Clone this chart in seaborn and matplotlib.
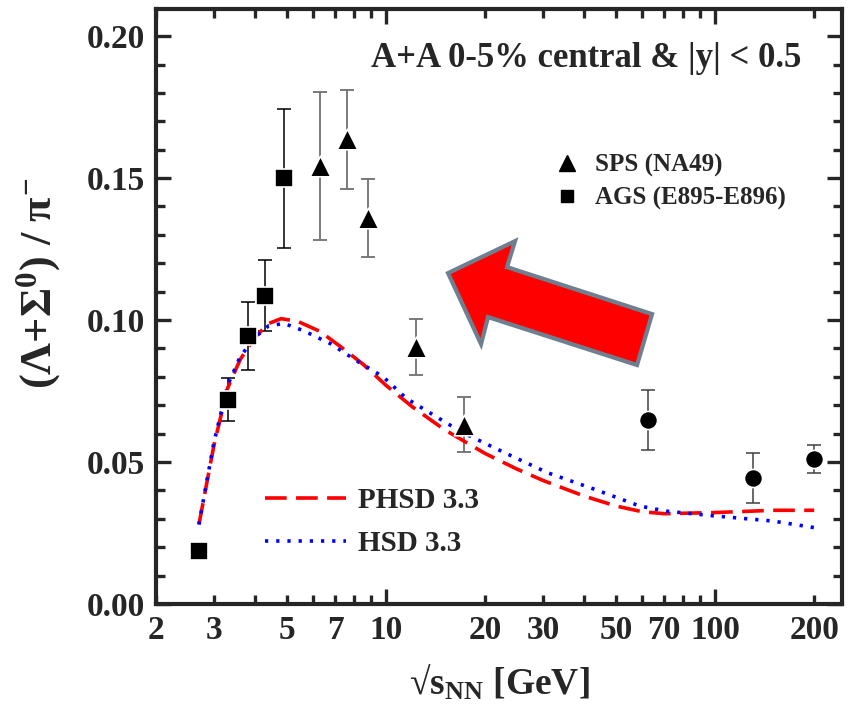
import numpy as np
import pandas as pd
import matplotlib
matplotlib.use("Agg")
import matplotlib.pyplot as plt
from matplotlib.lines import Line2D
from matplotlib.patches import Polygon
from matplotlib.ticker import FixedLocator, LogLocator, NullFormatter, MultipleLocator
import seaborn as sns

# --- data ---
# AGS (E895-E896), squares
ags_x = [2.7, 3.3, 3.8, 4.3, 4.9]
ags_y = [0.0185, 0.0720, 0.0945, 0.1085, 0.1500]
ags_err = [0.0, 0.0075, 0.0120, 0.0125, 0.0245]

# SPS (NA49), triangles
sps_x = [6.3, 7.6, 8.8, 12.3, 17.3]
sps_y = [0.1543, 0.1637, 0.1359, 0.0904, 0.0632]
sps_err = [0.0260, 0.0175, 0.0137, 0.0098, 0.0097]

# RHIC points, circles (no legend entry)
rhic_x = [62.4, 130.0, 200.0]
rhic_y = [0.0647, 0.0445, 0.0510]
rhic_err = [0.0106, 0.0088, 0.0050]

# PHSD 3.3
phsd_x = [2.7, 3.0, 3.3, 3.6, 4.0, 4.4, 4.8, 5.4, 6.3, 7.3, 8.5, 10, 12, 15,
          20, 25, 30, 40, 50, 60, 70, 100, 150, 200]
phsd_y = [0.028, 0.056, 0.076, 0.086, 0.094, 0.0988, 0.1005, 0.0995, 0.096,
          0.0905, 0.0845, 0.077, 0.0695, 0.0615, 0.053, 0.0475, 0.0435, 0.038,
          0.0345, 0.0325, 0.0318, 0.0322, 0.0330, 0.0330]

# HSD 3.3
hsd_x = [2.7, 3.0, 3.3, 3.6, 4.0, 4.4, 4.9, 5.6, 6.8, 8.1, 9.8, 11.5, 14, 17,
         23, 31, 43, 59, 71, 100, 150, 200]
hsd_y = [0.028, 0.057, 0.077, 0.087, 0.094, 0.098, 0.0988, 0.0963, 0.0916,
         0.0858, 0.080, 0.0725, 0.0664, 0.0605, 0.0532, 0.0462, 0.0404, 0.0345,
         0.0327, 0.0310, 0.0292, 0.0269]

x_ticks = [2, 3, 5, 7, 10, 20, 30, 50, 70, 100, 200]
x_ticklabels = ["2", "3", "5", "7", "10", "20", "30", "50", "70", "100", "200"]
y_ticks = [0.00, 0.05, 0.10, 0.15, 0.20]
y_ticklabels = ["0.00", "0.05", "0.10", "0.15", "0.20"]

sns.set_style("ticks")
plt.rcParams["font.family"] = ["Liberation Serif", "DejaVu Serif"]
plt.rcParams["font.weight"] = "bold"
plt.rcParams["axes.labelweight"] = "bold"
plt.rcParams["mathtext.fontset"] = "custom"
plt.rcParams["mathtext.rm"] = "Liberation Serif:bold"
plt.rcParams["mathtext.bf"] = "Liberation Serif:bold"
plt.rcParams["mathtext.it"] = "Liberation Serif:bold"

fig = plt.figure(figsize=(8.48, 7.06), dpi=100)
ax = fig.add_axes([0.184, 0.1445, 0.809, 0.8425])

# model curves
models = pd.concat([
    pd.DataFrame({"x": phsd_x, "y": phsd_y, "model": "PHSD 3.3"}),
    pd.DataFrame({"x": hsd_x, "y": hsd_y, "model": "HSD 3.3"}),
])
dash_red = (0, (6, 2.6))
dot_blue = (0, (0.9, 2.2))
sns.lineplot(data=models[models.model == "PHSD 3.3"], x="x", y="y", ax=ax,
             color="#ff0000", lw=2.6, legend=False, zorder=3, linestyle=dash_red)
sns.lineplot(data=models[models.model == "HSD 3.3"], x="x", y="y", ax=ax,
             color="#0000ff", lw=2.6, legend=False, zorder=4, linestyle=dot_blue)

# error bars
ax.errorbar(ags_x, ags_y, yerr=ags_err, fmt="none", ecolor="black",
            elinewidth=1.1, capsize=5, capthick=1.1, zorder=2)
ax.errorbar(sps_x, sps_y, yerr=sps_err, fmt="none", ecolor="#707070",
            elinewidth=1.3, capsize=5, capthick=1.3, zorder=2)
ax.errorbar(rhic_x, rhic_y, yerr=rhic_err, fmt="none", ecolor="#404040",
            elinewidth=1.1, capsize=5, capthick=1.1, zorder=2)

# markers
sns.scatterplot(x=ags_x, y=ags_y, marker="s", s=150, color="black",
                edgecolor="white", linewidth=1.2, ax=ax, zorder=5)
sns.scatterplot(x=sps_x, y=sps_y, marker="^", s=220, color="black",
                edgecolor="white", linewidth=1.2, ax=ax, zorder=5)
sns.scatterplot(x=rhic_x, y=rhic_y, marker="o", s=170, color="black",
                edgecolor="white", linewidth=1.2, ax=ax, zorder=5)

# axes
ax.set_xscale("log")
ax.set_xlim(2, 243)
ax.set_ylim(0, 0.2095)
ax.xaxis.set_major_locator(FixedLocator(x_ticks))
ax.set_xticklabels(x_ticklabels)
ax.xaxis.set_minor_locator(LogLocator(base=10, subs=np.arange(2, 10)))
ax.xaxis.set_minor_formatter(NullFormatter())
ax.set_yticks(y_ticks)
ax.set_yticklabels(y_ticklabels)
ax.yaxis.set_minor_locator(MultipleLocator(0.01))

for s in ax.spines.values():
    s.set_linewidth(3.0)
    s.set_visible(True)
ax.tick_params(which="both", direction="in", top=True, right=True, width=2.4,
               labelsize=24, pad=8)
ax.tick_params(which="major", length=11)
ax.tick_params(which="minor", length=6.5)
# only the decade ticks are long on the x axis
ax.tick_params(axis="x", which="major", length=6.5)
for t in ax.xaxis.get_major_ticks():
    if t.get_loc() in (10, 100):
        t.tick1line.set_markersize(11)
        t.tick2line.set_markersize(11)

ax.set_xlabel(r"√s$_{\mathregular{NN}}$ [GeV]", fontsize=27, labelpad=12)
ax.set_ylabel(r"($\Lambda$+$\Sigma^{\mathregular{0}}$) / $\pi^{\mathregular{-}}$",
              fontsize=32)
ax.yaxis.set_label_coords(-0.136, 0.54)

ax.text(0.94, 0.917, "A+A 0-5% central & |y| < 0.5", transform=ax.transAxes,
        ha="right", va="center", fontsize=25, fontweight="bold")

# red arrow (decoration, in axes fraction)
arrow_px = [(448, 273), (515, 241), (507, 267), (652, 314), (637, 365),
            (488, 317), (481, 344)]
arrow = [((px - 156) / 686, (604 - py) / 595) for px, py in arrow_px]
ax.add_patch(Polygon(arrow, closed=True, transform=ax.transAxes,
                     facecolor="#ff0000", edgecolor="#6e8090", lw=3, zorder=6))

# legends
line_handles = [
    Line2D([], [], color="#ff0000", lw=2.6, linestyle=dash_red),
    Line2D([], [], color="#0000ff", lw=2.6, linestyle=dot_blue),
]
leg1 = ax.legend(line_handles, ["PHSD 3.3", "HSD 3.3"], loc="lower left",
                 bbox_to_anchor=(0.12, 0.035), frameon=False, fontsize=21,
                 handlelength=2.8, handletextpad=0.4, labelspacing=0.55)
ax.add_artist(leg1)
pt_handles = [
    Line2D([], [], marker="^", color="black", ls="none", markersize=11),
    Line2D([], [], marker="s", color="black", ls="none", markersize=9),
]
ax.legend(pt_handles, ["SPS (NA49)", "AGS (E895-E896)"], loc="upper left",
          bbox_to_anchor=(0.53, 0.795), frameon=False, fontsize=18,
          handletextpad=0.1, labelspacing=0.4)

fig.savefig("out.png", dpi=100)
